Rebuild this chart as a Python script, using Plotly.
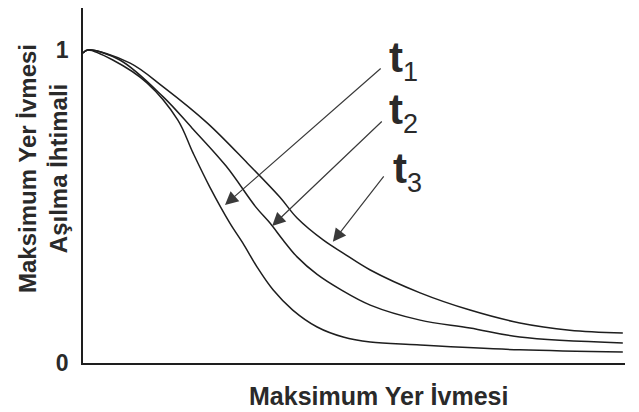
import plotly.graph_objects as go

# curve read-offs (x in arbitrary acceleration units, y = exceedance probability)
x_t1 = [0.0, 0.09, 0.55, 1.18, 1.75, 2.03, 2.34, 2.71, 2.95, 3.21, 3.51, 3.87, 4.32, 4.80, 5.30, 6.16, 8.06, 9.96]
y_t1 = [0.99, 1.0, 0.968, 0.895, 0.776, 0.671, 0.562, 0.447, 0.383, 0.307, 0.233, 0.169, 0.115, 0.083, 0.067, 0.058, 0.042, 0.035]

x_t2 = [0.0, 0.09, 0.68, 1.48, 2.01, 2.64, 3.19, 3.45, 3.69, 3.95, 4.32, 4.74, 5.30, 6.22, 7.14, 8.06, 9.96]
y_t2 = [0.99, 1.0, 0.968, 0.850, 0.751, 0.629, 0.498, 0.447, 0.393, 0.339, 0.283, 0.236, 0.185, 0.137, 0.112, 0.083, 0.064]

x_t3 = [0.0, 0.09, 0.87, 1.48, 2.29, 3.03, 3.63, 3.95, 4.43, 4.80, 5.30, 6.22, 7.14, 8.06, 8.98, 9.96]
y_t3 = [0.99, 1.0, 0.958, 0.882, 0.767, 0.639, 0.530, 0.463, 0.393, 0.351, 0.297, 0.224, 0.169, 0.128, 0.105, 0.096]

labels = ['1', '2', '3']
# arrow tails / heads
tail_x = [5.52, 5.54, 5.57]
tail_y = [0.945, 0.776, 0.601]
head_x = [2.62, 3.49, 4.61]
head_y = [0.505, 0.438, 0.387]
label_x = [5.60, 5.60, 5.69]
label_y = [0.965, 0.800, 0.613]

FONT = 'Liberation Sans, Arial, sans-serif'
INK = '#1e1e1e'

fig = go.Figure()
for xs, ys in [(x_t1, y_t1), (x_t2, y_t2), (x_t3, y_t3)]:
    fig.add_trace(go.Scatter(x=xs, y=ys, mode='lines', line=dict(color=INK, width=1.5, shape='spline', smoothing=1.0),
                             showlegend=False, hoverinfo='skip'))

for i in range(3):
    fig.add_annotation(x=head_x[i], y=head_y[i], ax=tail_x[i], ay=tail_y[i], xref='x', yref='y', axref='x', ayref='y',
                       text='', showarrow=True, arrowhead=2, arrowsize=2.2, arrowwidth=1.2, arrowcolor='#3a3a3a')
    fig.add_annotation(x=label_x[i], y=label_y[i], xref='x', yref='y', xanchor='left', yanchor='middle',
                       text='<b>t</b><sub><span style="font-size:27px">' + labels[i] + '</span></sub>', showarrow=False,
                       font=dict(family=FONT, size=42, color='#2a2a2a'))

fig.add_annotation(x=-0.074, y=0.549, xref='paper', yref='paper', xanchor='center', yanchor='middle', textangle=-90,
                   text='<b>Maksimum Yer İvmesi<br>Aşılma İhtimali</b>', showarrow=False,
                   font=dict(family=FONT, size=24, color='#2a2a2a'))
fig.add_annotation(x=0.546, y=-0.093, xref='paper', yref='paper', xanchor='center', yanchor='middle',
                   text='<b>Maksimum Yer İvmesi</b>', showarrow=False,
                   font=dict(family=FONT, size=25, color='#2a2a2a'))

fig.update_xaxes(range=[0, 10], showline=True, linecolor=INK, linewidth=1.5, showgrid=False, zeroline=False,
                 showticklabels=False, ticks='')
fig.update_yaxes(range=[0, 1.134], showline=True, linecolor=INK, linewidth=1.5, showgrid=False, zeroline=False,
                 tickvals=[0, 1], ticktext=['<b>0</b>', '<b>1</b>'], ticks='', ticklabelstandoff=8,
                 tickfont=dict(family=FONT, size=23, color='#2a2a2a'))
# page body adds ~8px offset, margins compensate
fig.update_layout(width=639, height=412, margin=dict(l=75, r=22, t=0, b=57),
                  paper_bgcolor='white', plot_bgcolor='white')

fig.write_html("out.html")
